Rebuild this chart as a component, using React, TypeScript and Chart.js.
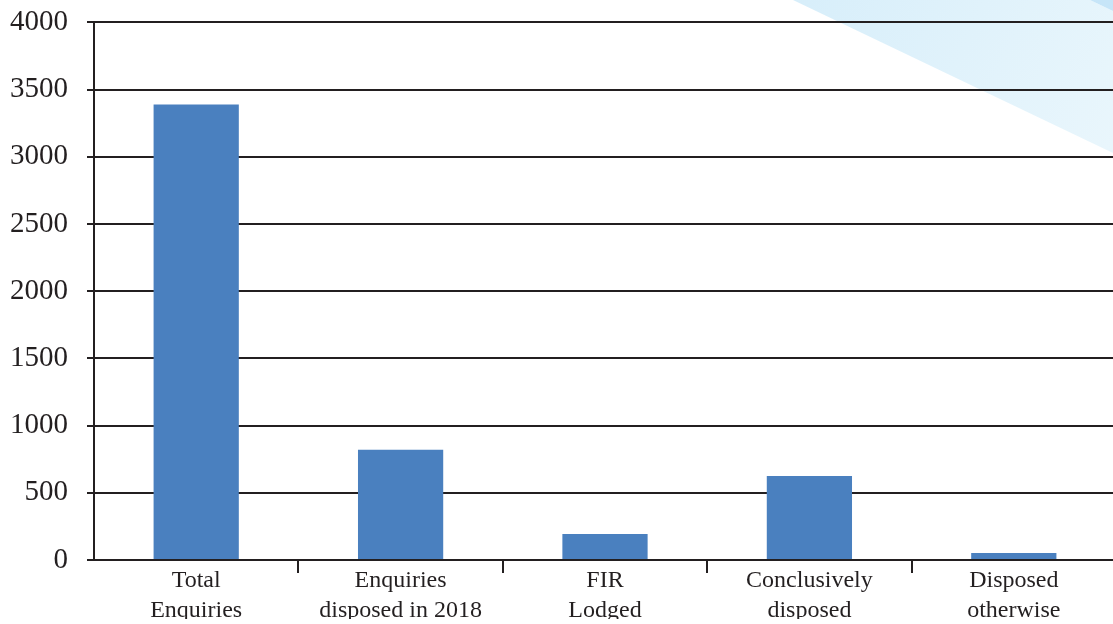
import React, { useEffect, useRef } from "react";
import Chart from "chart.js/auto";

// Enquiry categories (two-line axis labels) and their counts
const categories: string[][] = [
  ["Total", "Enquiries"],
  ["Enquiries", "disposed in 2018"],
  ["FIR", "Lodged"],
  ["Conclusively", "disposed"],
  ["Disposed", "otherwise"],
];
const enquiryCounts: number[] = [3390, 820, 193, 625, 52];

// Value axis range
const yMin = 0;
const yMax = 4000;
const yStep = 500;

const INK = "#231f20";
const BAR = "#4a80bf";
const FONT = "'Liberation Serif', 'Times New Roman', serif";

// Canvas is a little larger than the visible frame and shifted up/left
const SHIFT_X = 19;
const SHIFT_Y = 14;
const CANVAS_W = 1118 + SHIFT_X;
const CANVAS_H = 626 + SHIFT_Y;

// Pale blue diagonal band in the top-right corner of the backdrop
const backdropPlugin = {
  id: "backdrop",
  beforeDraw(chart: any) {
    const { ctx } = chart;
    ctx.save();
    ctx.fillStyle = "#ffffff";
    ctx.fillRect(0, 0, chart.width, chart.height);
    ctx.translate(SHIFT_X, SHIFT_Y);
    const g = ctx.createLinearGradient(790, 0, 1113, 150);
    g.addColorStop(0, "#d7eefa");
    g.addColorStop(1, "#e9f6fc");
    ctx.fillStyle = g;
    ctx.beginPath();
    ctx.moveTo(793, 0);
    ctx.lineTo(1113, 153);
    ctx.lineTo(1113, 11);
    ctx.lineTo(1090, 0);
    ctx.closePath();
    ctx.fill();
    ctx.fillStyle = "#c6e5f8";
    ctx.beginPath();
    ctx.moveTo(1090, 0);
    ctx.lineTo(1113, 11);
    ctx.lineTo(1113, 0);
    ctx.closePath();
    ctx.fill();
    ctx.restore();
  },
};

export default function App() {
  const canvasRef = useRef<HTMLCanvasElement | null>(null);

  useEffect(() => {
    if (!canvasRef.current) return;
    const lastIdx = categories.length;
    const chart = new Chart(canvasRef.current, {
      type: "bar",
      data: {
        labels: categories,
        datasets: [
          {
            data: enquiryCounts,
            backgroundColor: BAR,
            borderWidth: 0,
            barPercentage: 0.417,
            categoryPercentage: 1,
          },
        ],
      },
      options: {
        responsive: false,
        animation: false,
        devicePixelRatio: 1,
        layout: { padding: { top: 8, left: 10, right: 2, bottom: 7 } },
        plugins: {
          legend: { display: false },
          tooltip: { enabled: false },
        },
        scales: {
          x: {
            offset: true,
            grid: {
              offset: true,
              drawOnChartArea: false,
              drawTicks: true,
              tickLength: 13,
              lineWidth: 2,
              color: (c: any) =>
                c.index === 0 || c.index === lastIdx ? "rgba(0,0,0,0)" : INK,
            },
            border: { display: true, color: INK, width: 2 },
            ticks: {
              autoSkip: false,
              maxRotation: 0,
              minRotation: 0,
              padding: -7,
              color: INK,
              font: { family: FONT, size: 24, lineHeight: 1.25 },
            },
          },
          y: {
            min: yMin,
            max: yMax,
            grid: {
              color: INK,
              lineWidth: 2,
              tickLength: 7,
              drawTicks: true,
            },
            border: { display: true, color: INK, width: 2 },
            ticks: {
              stepSize: yStep,
              padding: 19,
              color: INK,
              font: { family: FONT, size: 29 },
              callback: (v: any) => String(v),
            },
          },
        },
      },
      plugins: [backdropPlugin],
    });
    return () => chart.destroy();
  }, []);

  return (
    <div
      style={{
        position: "absolute",
        left: 0,
        top: 0,
        width: 1113,
        height: 624,
        overflow: "hidden",
        background: "#ffffff",
      }}
    >
      <canvas
        ref={canvasRef}
        width={CANVAS_W}
        height={CANVAS_H}
        style={{
          display: "block",
          position: "absolute",
          left: -SHIFT_X,
          top: -SHIFT_Y,
          width: CANVAS_W,
          height: CANVAS_H,
        }}
      />
    </div>
  );
}
